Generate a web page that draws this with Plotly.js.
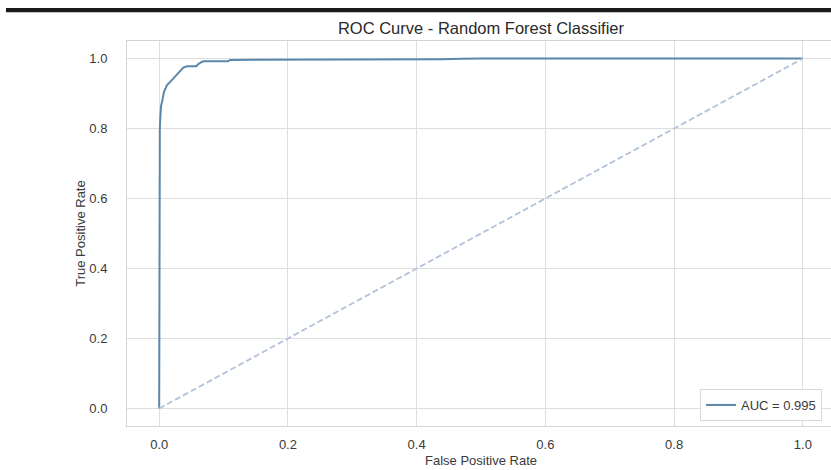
<!DOCTYPE html>
<html>
<head>
<meta charset="utf-8">
<script src="https://cdn.plot.ly/plotly-3.0.1.min.js"></script>
<style>
  html, body { margin: 0; padding: 0; background: #ffffff; overflow: hidden; }
  #chart { width: 836px; height: 470px; }
</style>
</head>
<body>
<div id="chart"></div>
<script>
// ROC curve
const fpr = [0, 0, 0.001, 0.002, 0.003, 0.005, 0.0075, 0.010, 0.012, 0.015, 0.017, 0.020, 0.022, 0.025, 0.027, 0.030, 0.033, 0.0375, 0.043, 0.050, 0.058, 0.060, 0.063, 0.066, 0.069, 0.080, 0.095, 0.107, 0.110, 0.200, 0.300, 0.400, 0.440, 0.470, 0.500, 0.700, 0.900, 1.0];
const tpr = [0, 0.60, 0.80, 0.84, 0.865, 0.881, 0.905, 0.915, 0.924, 0.929, 0.933, 0.938, 0.943, 0.950, 0.955, 0.961, 0.967, 0.974, 0.978, 0.978, 0.978, 0.983, 0.987, 0.990, 0.992, 0.992, 0.992, 0.992, 0.996, 0.996, 0.996, 0.996, 0.998, 0.999, 1.0, 1.0, 1.0, 1.0];
// chance diagonal
const diagX = [0, 1];
const diagY = [0, 1];
const aucLabel = "AUC = 0.995";
const titleText = "ROC Curve - Random Forest Classifier";
const xTitle = "False Positive Rate";
const yTitle = "True Positive Rate";
const tickVals = [0, 0.2, 0.4, 0.6, 0.8, 1.0];
const tickText = ["0.0", "0.2", "0.4", "0.6", "0.8", "1.0"];

const FONT = "Liberation Sans, Arial, sans-serif";

const traces = [
  {
    x: fpr, y: tpr, type: "scatter", mode: "lines", name: aucLabel,
    line: { color: "#5b87ab", width: 2, shape: "linear" }, showlegend: true
  },
  {
    x: diagX, y: diagY, type: "scatter", mode: "lines", name: "chance",
    line: { color: "#b2c2d8", width: 1.8, dash: "6px,3px" }, showlegend: false
  }
];

const axisCommon = {
  showgrid: true, gridcolor: "#dedede", gridwidth: 1,
  showline: true, linecolor: "#d4d4d4", linewidth: 1, mirror: true,
  zeroline: false,
  ticks: "outside", tickcolor: "rgba(0,0,0,0)",
  tickfont: { family: FONT, size: 13, color: "#3a3a3a" },
  tickvals: tickVals, ticktext: tickText,
  fixedrange: true
};

const layout = {
  width: 836, height: 470,
  margin: { l: 127, r: 1, t: 41, b: 44, pad: 0, autoexpand: false },
  paper_bgcolor: "#ffffff", plot_bgcolor: "#ffffff",
  font: { family: FONT, size: 13, color: "#3a3a3a" },
  title: {
    text: titleText, font: { family: FONT, size: 16.5, color: "#2a2a2a" },
    x: 481 / 836, xref: "container", xanchor: "center",
    y: 1 - 28 / 470, yref: "container", yanchor: "middle"
  },
  xaxis: Object.assign({}, axisCommon, {
    range: [-0.05, 1.05], ticklen: 6,
    title: { text: xTitle, font: { family: FONT, size: 13, color: "#3a3a3a" }, standoff: 5 }
  }),
  yaxis: Object.assign({}, axisCommon, {
    range: [-0.05, 1.05], ticklen: 16,
    title: { text: yTitle, font: { family: FONT, size: 13, color: "#3a3a3a" }, standoff: 0 }
  }),
  legend: {
    x: (822 - 127) / 708, xanchor: "right",
    y: (426 - 421) / 385, yanchor: "bottom",
    bgcolor: "#ffffff", bordercolor: "#d8d8d8", borderwidth: 1,
    font: { family: FONT, size: 13, color: "#3a3a3a" }
  },
  shapes: [
    {
      type: "rect", xref: "paper", yref: "paper",
      x0: (6 - 127) / 708, x1: (840 - 127) / 708,
      y0: 1 + (41 - 12.3) / 385, y1: 1 + (41 - 8) / 385,
      fillcolor: "#1a1a1a", line: { width: 0 }, layer: "above"
    }
  ],
  showlegend: true
};

Plotly.newPlot("chart", traces, layout, { displayModeBar: false, staticPlot: true });
</script>
</body>
</html>
